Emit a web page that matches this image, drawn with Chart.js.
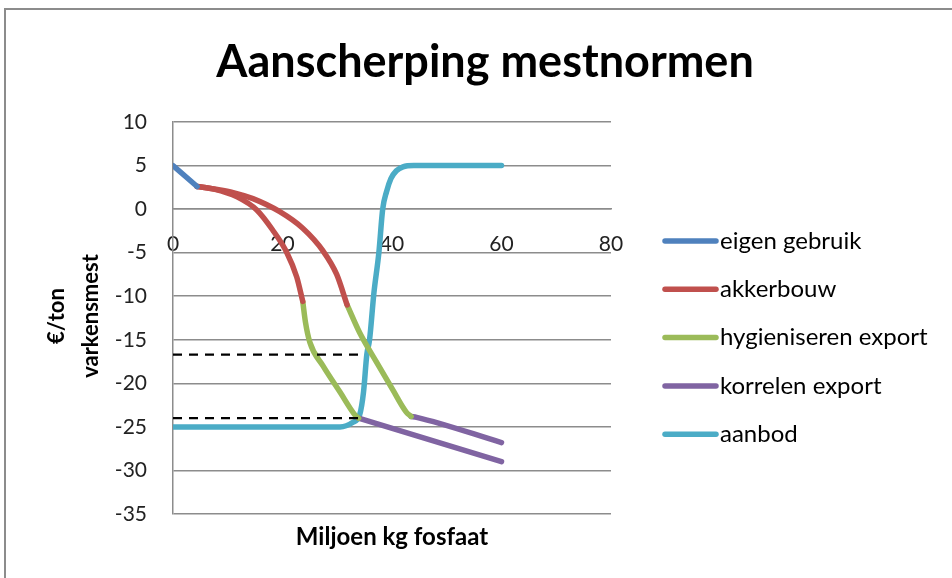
<!DOCTYPE html>
<html>
<head>
<meta charset="utf-8">
<script src="https://cdn.jsdelivr.net/npm/chart.js@4.4.1/dist/chart.umd.min.js"></script>
<style>
  html, body { margin: 0; padding: 0; background: #fff; }
  #wrap { position: relative; width: 952px; height: 578px; overflow: hidden; }
  #frame { position: absolute; left: 4px; top: 8px; width: 980px; height: 620px; border: 2px solid #8c8c8c; box-sizing: border-box; }
  canvas { position: absolute; left: 0; top: 0; }
</style>
</head>
<body>
<div id="wrap">
  <div id="frame"></div>
  <canvas id="chart" width="952" height="578"></canvas>
</div>
<script>
// Aanscherping mestnormen - line segments as [x, y] points

const chartTitle = 'Aanscherping mestnormen';
const xTitle = 'Miljoen kg fosfaat';
const yTitle = ['€/ton', 'varkensmest'];

const seriesNames = ['eigen gebruik', 'akkerbouw', 'hygieniseren export', 'korrelen export', 'aanbod'];
const seriesColors = ['#4f81bd', '#c0504d', '#9bbb59', '#8064a2', '#4bacc6'];

const xTicks = [0, 20, 40, 60, 80];
const yTicks = [10, 5, 0, -5, -10, -15, -20, -25, -30, -35];

const eigenGebruik = [[0, 5], [4.4, 2.6]];

const akkerbouwA = [[4.4, 2.6], [7.5, 2.3], [11.7, 1.4], [15.3, -0.1], [18.2, -2.4], [20.8, -5], [22.6, -7.8], [23.7, -10.6]];
const akkerbouwB = [[4.4, 2.6], [7.5, 2.3], [11, 1.9], [14.6, 1.2], [19.5, -0.3], [23.7, -2.2], [27.4, -4.8], [29.9, -7.5], [31.8, -11]];

const hygienA = [[23.7, -10.6], [24.2, -13], [25, -15.3], [27.4, -18], [30.5, -21], [33.2, -23.6], [33.9, -24]];
const hygienB = [[31.8, -11], [34.1, -14.2], [37.2, -17.6], [40.1, -20.7], [42.6, -23.3], [43.5, -23.8]];

const korrelenA = [[33.9, -24], [60, -29]];
const korrelenB = [[43.5, -23.8], [44.5, -23.9], [60, -26.8]];

const aanbod = [[0, -25], [30.5, -25], [32.8, -24.5], [34.1, -23.6], [34.8, -21], [35.4, -16.7], [35.9, -15],
  [36.7, -9.6], [37.6, -5], [38.3, 0], [39, 2], [39.8, 3.5], [40.8, 4.4], [42, 4.85], [44, 5], [60, 5]];

// dashed helper lines
const dashHigh = [[0, -16.7], [34.5, -16.7]];
const dashLow = [[0, -24], [33.8, -24]];

const FONT = 'Lato, "Open Sans", sans-serif';

function pts(arr) {
  return arr.map(p => ({ x: p[0], y: p[1] }));
}

function seg(data, idx) {
  return {
    label: seriesNames[idx],
    data: pts(data),
    showLine: true,
    borderColor: seriesColors[idx],
    backgroundColor: seriesColors[idx],
    borderWidth: 5.5,
    pointRadius: 0,
    cubicInterpolationMode: 'monotone',
    borderCapStyle: 'round'
  };
}

function dash(data) {
  return {
    label: 'dash',
    data: pts(data),
    showLine: true,
    borderColor: '#000',
    borderWidth: 2.2,
    borderDash: [9, 7],
    pointRadius: 0
  };
}

// title, axis titles and legend drawn on the canvas after the chart
const extras = {
  id: 'extras',
  afterDraw(chart) {
    const ctx = chart.ctx;
    const area = chart.chartArea;
    ctx.save();
    ctx.fillStyle = '#000';
    ctx.textAlign = 'center';
    ctx.textBaseline = 'middle';

    ctx.font = 'bold 45px ' + FONT;
    ctx.fillText(chartTitle, 485, 62);

    ctx.font = 'bold 24px ' + FONT;
    ctx.fillText(xTitle, (area.left + area.right) / 2, 537);

    ctx.font = 'bold 22px ' + FONT;
    ctx.save();
    ctx.translate(74, 316);
    ctx.rotate(-Math.PI / 2);
    ctx.fillText(yTitle[0], 0, -17);
    ctx.fillText(yTitle[1], 0, 17);
    ctx.restore();

    ctx.textAlign = 'left';
    ctx.font = '24px ' + FONT;
    seriesNames.forEach((name, i) => {
      const y = 241 + i * 48.3;
      ctx.strokeStyle = seriesColors[i];
      ctx.lineWidth = 5.5;
      ctx.lineCap = 'round';
      ctx.beginPath();
      ctx.moveTo(665, y);
      ctx.lineTo(716, y);
      ctx.stroke();
      ctx.fillText(name, 720, y);
    });
    ctx.restore();
  }
};

new Chart(document.getElementById('chart'), {
  type: 'scatter',
  data: {
    datasets: [
      dash(dashHigh), dash(dashLow),
      seg(eigenGebruik, 0),
      seg(akkerbouwA, 1), seg(akkerbouwB, 1),
      seg(hygienA, 2), seg(hygienB, 2),
      seg(korrelenA, 3), seg(korrelenB, 3),
      seg(aanbod, 4)
    ]
  },
  options: {
    responsive: false,
    animation: false,
    layout: { padding: { top: 122, left: 0, right: 341, bottom: 64 } },
    plugins: {
      legend: { display: false },
      tooltip: { enabled: false },
      title: { display: false }
    },
    scales: {
      x: {
        type: 'linear',
        position: { y: 0 },
        min: 0,
        max: 80,
        afterBuildTicks: s => { s.ticks = xTicks.map(v => ({ value: v })); },
        grid: { display: false, drawTicks: false },
        border: { display: true, color: '#8c8c8c', width: 1.5 },
        ticks: { color: '#222', padding: 23, font: { family: FONT, size: 21 } }
      },
      y: {
        type: 'linear',
        min: -35,
        max: 10,
        afterBuildTicks: s => { s.ticks = yTicks.map(v => ({ value: v })); },
        afterFit: s => { s.width = 173; },
        grid: { color: '#8c8c8c', lineWidth: 1.5, drawTicks: false },
        border: { display: true, color: '#8c8c8c', width: 1.5 },
        ticks: { color: '#222', padding: 26, font: { family: FONT, size: 21 } }
      }
    }
  },
  plugins: [extras]
});
</script>
</body>
</html>
